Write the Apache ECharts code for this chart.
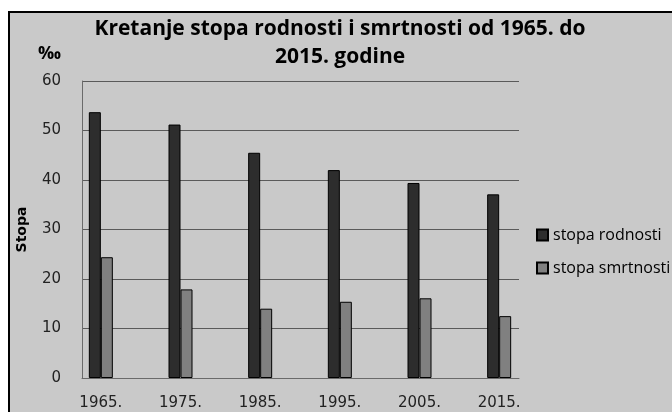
<!DOCTYPE html>
<html>
<head>
<meta charset="utf-8">
<script src="https://cdn.jsdelivr.net/npm/echarts@6/dist/echarts.min.js"></script>
<style>
html,body{margin:0;padding:0;background:#fff;}
#c{width:672px;height:412px;}
</style>
</head>
<body>
<div id="c"></div>
<script>
const categories = ['1965.', '1975.', '1985.', '1995.', '2005.', '2015.'];
const birthRate = [53.7, 51.2, 45.5, 42.0, 39.4, 37.1];
const deathRate = [24.4, 17.9, 14.0, 15.4, 16.1, 12.5];
const seriesNames = ['stopa rodnosti', 'stopa smrtnosti'];
const yTicks = [0, 10, 20, 30, 40, 50, 60];

const chart = echarts.init(document.getElementById('c'), null, {renderer: 'canvas'});
chart.setOption({
  backgroundColor: '#ffffff',
  animation: false,
  graphic: {
    elements: [{
      type: 'rect', z: -100,
      shape: {x: 9, y: 12, width: 700, height: 420},
      style: {fill: '#c9c9c9', stroke: '#000', lineWidth: 2}
    }]
  },
  title: [{
    text: 'Kretanje stopa rodnosti i smrtnosti od 1965. do\n2015. godine',
    left: 340, top: 15, textAlign: 'center', padding: 0,
    textStyle: {fontFamily: 'Open Sans', fontWeight: 'bold', fontSize: 21, color: '#000', lineHeight: 28}
  }, {
    text: '‰',
    left: 38, top: 45, padding: 0,
    textStyle: {fontFamily: 'Open Sans', fontWeight: 'bold', fontSize: 18, color: '#000'}
  }],
  legend: {
    orient: 'vertical', left: 536, top: 227, padding: 0,
    itemWidth: 11, itemHeight: 11, itemGap: 17,
    icon: 'rect',
    data: seriesNames,
    textStyle: {fontFamily: 'Open Sans', fontSize: 16, color: '#000'}
  },
  grid: [
    {left: 82, right: 153, top: 81, bottom: 34},
    {left: 61, right: 133, top: 81, bottom: 34}
  ],
  xAxis: [{
    gridIndex: 0, type: 'category', data: categories,
    axisLine: {show: true, lineStyle: {color: '#6a6a6a', width: 1}},
    axisTick: {show: false}, axisLabel: {show: false}, splitLine: {show: false}
  }, {
    gridIndex: 1, type: 'category', data: categories,
    axisLine: {show: false}, axisTick: {show: false},
    axisLabel: {margin: 18, fontFamily: 'DejaVu Sans', fontSize: 15, color: '#222'}
  }],
  yAxis: [{
    gridIndex: 0, type: 'value', min: yTicks[0], max: yTicks[yTicks.length - 1], interval: 10,
    name: 'Stopa', nameLocation: 'middle', nameGap: 53, nameRotate: 90,
    nameTextStyle: {fontFamily: 'DejaVu Sans', fontWeight: 'bold', fontSize: 14, color: '#000'},
    axisLine: {show: true, lineStyle: {color: '#6a6a6a'}},
    axisTick: {show: false},
    axisLabel: {margin: 21, fontFamily: 'DejaVu Sans', fontSize: 15, color: '#222'},
    splitLine: {show: true, lineStyle: {color: '#5a5a5a', width: 1}}
  }, {
    gridIndex: 1, type: 'value', min: yTicks[0], max: yTicks[yTicks.length - 1], interval: 10,
    show: false
  }],
  series: [{
    name: seriesNames[0], type: 'bar', xAxisIndex: 1, yAxisIndex: 1,
    data: birthRate, barWidth: 12, barGap: '0%',
    itemStyle: {color: '#2d2d2d', borderColor: '#000', borderWidth: 1}
  }, {
    name: seriesNames[1], type: 'bar', xAxisIndex: 1, yAxisIndex: 1,
    data: deathRate, barWidth: 12, barGap: '0%',
    itemStyle: {color: '#808080', borderColor: '#000', borderWidth: 1}
  }]
});
</script>
</body>
</html>
